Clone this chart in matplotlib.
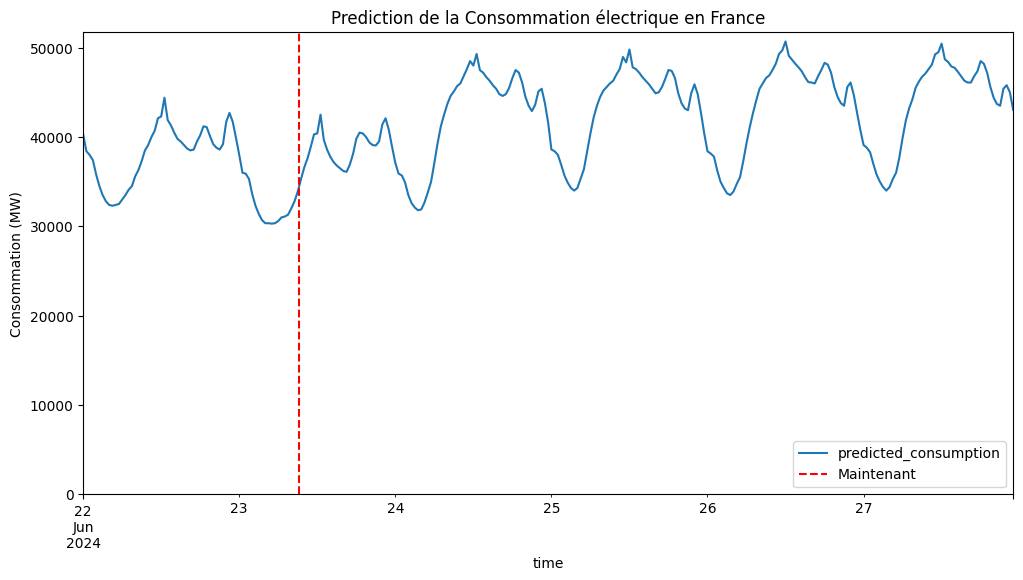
#!/usr/bin/env python3
"""
Prediction of French electricity consumption, half-hourly, with a marker for 'now'.
"""
import pandas as pd
import matplotlib
matplotlib.use("Agg")
import matplotlib.pyplot as plt

START = "2024-06-22 00:00"
NOW = "2024-06-23 09:14"

# Half-hourly predicted consumption (MW), one list per day
day_22 = [40300, 38400, 38000, 37400, 35800, 34500, 33500, 32800, 32400, 32300, 32400, 32500,
          33000, 33500, 34100, 34500, 35600, 36300, 37300, 38500, 39100, 40000, 40700, 42100,
          42300, 44400, 41900, 41300, 40500, 39800, 39500, 39100, 38700, 38500, 38600, 39500,
          40200, 41200, 41100, 40100, 39200, 38800, 38600, 39200, 41700, 42700, 41700, 39900]
day_23 = [38000, 36000, 35900, 35300, 33600, 32300, 31400, 30700, 30350, 30350, 30300, 30350,
          30600, 31000, 31100, 31300, 32000, 32800, 33900, 35300, 36600, 37600, 38900, 40300,
          40400, 42500, 39700, 38600, 37800, 37200, 36800, 36500, 36200, 36100, 36900, 38100,
          39800, 40500, 40400, 40000, 39400, 39100, 39050, 39500, 41400, 42100, 40800, 38900]
day_24 = [37100, 35900, 35700, 34900, 33500, 32600, 32100, 31800, 31900, 32700, 33800, 35000,
          37100, 39300, 41200, 42500, 43700, 44600, 45100, 45700, 46000, 46800, 47600, 48500,
          48000, 49300, 47500, 47200, 46700, 46300, 45800, 45400, 44800, 44600, 44800, 45500,
          46600, 47500, 47200, 46100, 44500, 43500, 42900, 43600, 45100, 45400, 43800, 41600]
day_25 = [38600, 38400, 38000, 36900, 35700, 34900, 34300, 34000, 34300, 35350, 36400, 38400,
          40400, 42200, 43500, 44500, 45200, 45600, 46000, 46300, 47000, 47600, 48960, 48350,
          49800, 47800, 47600, 47200, 46700, 46300, 45900, 45400, 44900, 45000, 45600, 46500,
          47500, 47400, 46600, 44900, 43800, 43200, 43000, 44900, 45900, 44800, 42700, 40400]
day_26 = [38400, 38150, 37800, 36250, 35000, 34300, 33700, 33500, 33900, 34750, 35500, 37300,
          39300, 41100, 42700, 44100, 45400, 46000, 46600, 46900, 47500, 48200, 49300, 49700,
          50700, 49100, 48650, 48200, 47800, 47350, 46700, 46150, 46100, 46000, 46800, 47500,
          48300, 48100, 47200, 45600, 44500, 43800, 43500, 45600, 46100, 44700, 42700, 40800]
day_27 = [39100, 38800, 38300, 37000, 35800, 35000, 34400, 34000, 34400, 35300, 36000, 37700,
          39900, 41850, 43200, 44200, 45500, 46200, 46750, 47100, 47600, 48100, 49250, 49500,
          50450, 48700, 48400, 47900, 47750, 47300, 46800, 46300, 46100, 46100, 46800, 47350,
          48500, 48200, 47200, 45600, 44400, 43700, 43500, 45400, 45800, 45000, 43050]


def main():
    values = day_22 + day_23 + day_24 + day_25 + day_26 + day_27
    index = pd.date_range(START, periods=len(values), freq="30min", name="time")
    pred = pd.Series(values, index=index, name="predicted_consumption")

    fig, ax = plt.subplots(figsize=(12, 6))
    pred.plot(ax=ax, label="predicted_consumption")
    ax.axvline(pd.Timestamp(NOW), color="red", linestyle="--", label="Maintenant")

    ax.set_title("Prediction de la Consommation électrique en France")
    ax.set_ylabel("Consommation (MW)")
    ax.set_ylim(bottom=0)
    ax.legend(loc="lower right")

    fig.savefig("out.png", bbox_inches="tight")
    plt.close(fig)


if __name__ == "__main__":
    main()
